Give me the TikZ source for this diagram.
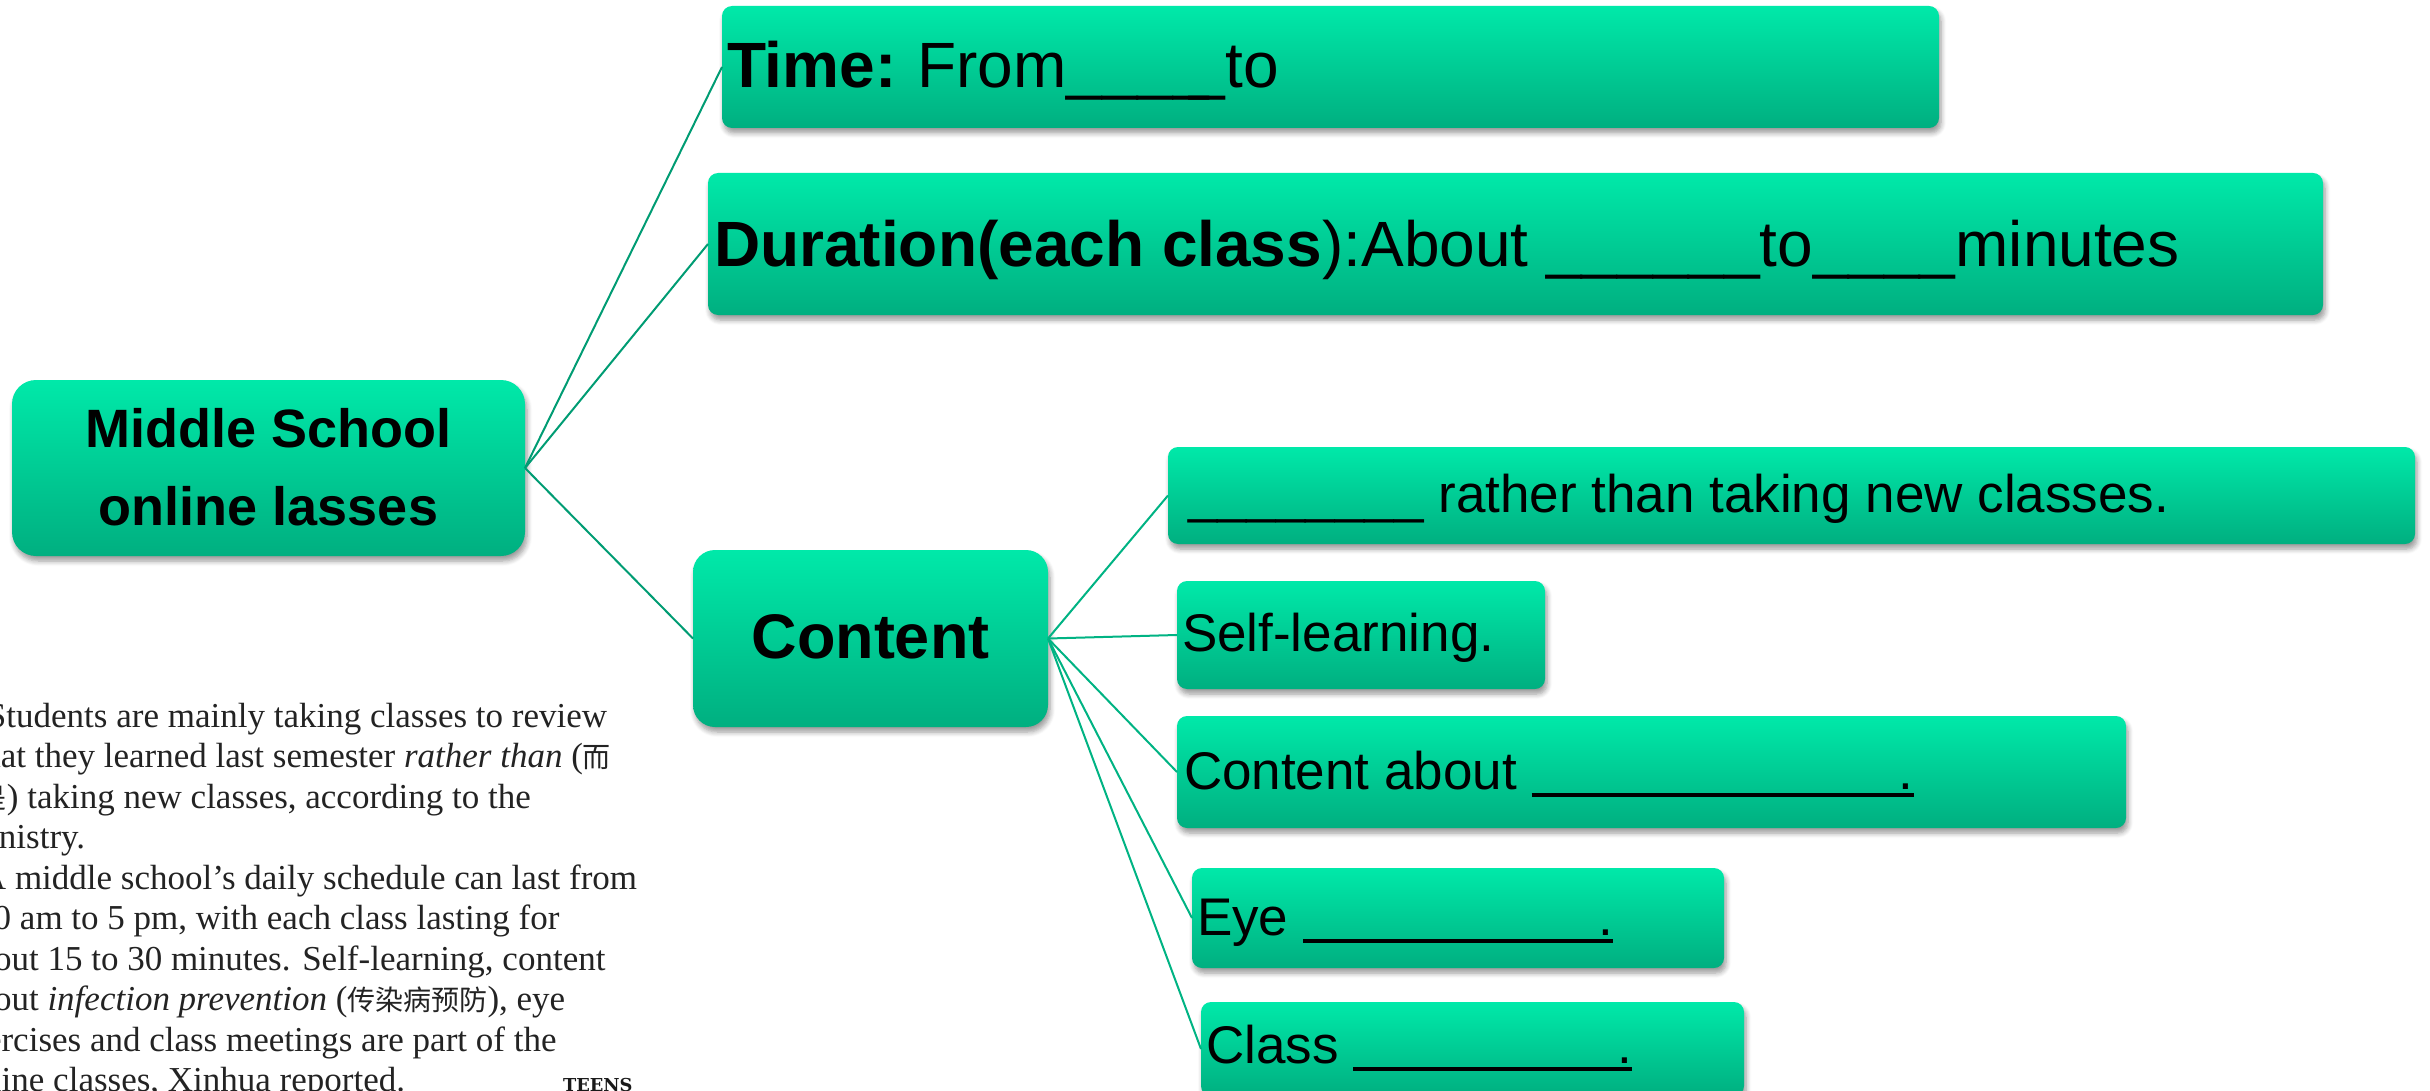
\documentclass[tikz,border=0pt]{standalone}
\usepackage{fontspec}
\setmainfont{Liberation Sans}
\newfontfamily\parafont{Liberation Serif}
\newfontfamily\teensfont{DejaVu Serif}
\newfontfamily\cjkfont{Noto Sans CJK SC}
\usetikzlibrary{shadows.blur}
\definecolor{gtop}{HTML}{00E9A9}
\definecolor{gbot}{HTML}{00AF80}
\definecolor{lineA}{HTML}{009C73}
\definecolor{lineB}{HTML}{00B383}
\definecolor{ptext}{HTML}{232323}
\newcommand{\ublank}[1]{\rlap{\rule[-3.9pt]{#1}{2pt}}\hspace{\dimexpr#1-7.37pt\relax}.}
\newcommand{\zh}[1]{{\cjkfont\fontsize{14pt}{14pt}\selectfont #1}}
\begin{document}
\begin{tikzpicture}[x=0.5pt,y=-0.5pt,
  every node/.style={inner sep=0pt,outer sep=0pt},
  gbox/.style={rectangle,draw=none,top color=gtop,bottom color=gbot,rounded corners=5pt,anchor=north west,
    blur shadow={shadow xshift=1pt,shadow yshift=-2.5pt,shadow blur radius=2.5pt,shadow blur steps=6,shadow opacity=40}},
  txt/.style={anchor=base west,text=black},
  bigf/.style={font=\fontsize{32pt}{38pt}\selectfont},
  midf/.style={font=\fontsize{26.5pt}{32pt}\selectfont},
  ptxt/.style={anchor=base west,text=ptext,font=\parafont\fontsize{17.5pt}{20pt}\selectfont},
  conA/.style={draw=lineA,line width=1pt},
  conB/.style={draw=lineB,line width=1pt}]
\useasboundingbox (0,0) rectangle (2430,1091);
\clip (0,0) rectangle (2430,1091);

% boxes
\node[gbox,rounded corners=12pt,minimum width=256.5pt,minimum height=88pt] (main) at (12,380) {};
\node[gbox,minimum width=608.5pt,minimum height=61pt] (time) at (722,6) {};
\node[gbox,minimum width=807.5pt,minimum height=71pt] (dur) at (708,173) {};
\node[gbox,rounded corners=11pt,minimum width=177.5pt,minimum height=88.5pt] (content) at (693,550) {};
\node[gbox,minimum width=623.5pt,minimum height=48.5pt] (rather) at (1168,447) {};
\node[gbox,minimum width=184pt,minimum height=54pt] (self) at (1177,581) {};
\node[gbox,minimum width=474.5pt,minimum height=56pt] (cabout) at (1177,716) {};
\node[gbox,minimum width=266pt,minimum height=50pt] (eye) at (1192,868) {};
\node[gbox,minimum width=271.5pt,minimum height=47pt] (class) at (1201,1002) {};

% connectors
\draw[conA] (main.east) -- (time.west);
\draw[conA] (main.east) -- (dur.west);
\draw[conA] (main.east) -- (content.west);
\draw[conB] (content.east) -- (rather.west);
\draw[conB] (content.east) -- (self.west);
\draw[conB] (content.east) -- (cabout.west);
\draw[conB] (content.east) -- (eye.west);
\draw[conB] (content.east) -- (class.west);

% box texts
\node[anchor=base,font=\bfseries\fontsize{27pt}{32pt}\selectfont] (mainA) at (268.5,447.5) {Middle School};
\node[anchor=base,font=\bfseries\fontsize{27pt}{32pt}\selectfont] (mainB) at (268.5,525) {online lasses};
\node[txt,bigf] (timeT) at (727,88) {{\bfseries Time:}\kern-1.5pt{} From\_\_\_\_\kern-9.5pt\_to};
\node[txt,bigf] (durT) at (714,267) {{\bfseries Duration(each class}):About \_\_\_\_\_\_to\_\_\_\_minutes};
\node[anchor=base,font=\bfseries\fontsize{31.5pt}{38pt}\selectfont] (contentT) at (870.5,658.3) {Content};
\node[txt,midf] (ratherT) at (1188,512) {\_\_\_\_\_\_\_\_ rather than taking new classes.};
\node[txt,midf] (selfT) at (1182,651.7) {Self-learning.};
\node[txt,midf] (caboutT) at (1184,789) {Content about \ublank{191pt}};
\node[txt,midf] (eyeT) at (1197,935) {Eye \ublank{155pt}};
\node[txt,midf] (classT) at (1206,1063) {Class \ublank{139.5pt}};

% article paragraph (cropped at the left edge)
\node[ptxt] (p1) at (-13,727) {Students are mainly taking classes to review};
\node[ptxt] (p2) at (-42,767.5) {what they learned last semester \textit{rather than} (\zh{而}};
\node[ptxt] (p3) at (-49,808) {\zh{不是}) taking new classes, according to the};
\node[ptxt] (p4) at (-38,848.5) {ministry.};
\node[ptxt] (p5) at (-19,889) {A middle school’s daily schedule can last from};
\node[ptxt] (p6) at (-51,929.5) {8:00 am to 5 pm, with each class lasting for};
\node[ptxt] (p7) at (-39,970) {about 15 to 30 minutes. Self-learning, content};
\node[ptxt] (p8) at (-39,1010.5) {about \textit{infection prevention} (\zh{传染病预防}), eye};
\node[ptxt] (p9) at (-47,1051) {exercises and class meetings are part of the};
\node[ptxt] (p10) at (-43,1091.5) {online classes, Xinhua reported.};
\node[anchor=base west,text=black!90,font=\teensfont\bfseries\fontsize{8.9pt}{9pt}\selectfont] (teens) at (563,1091.5) {TEENS};
\end{tikzpicture}
\end{document}
